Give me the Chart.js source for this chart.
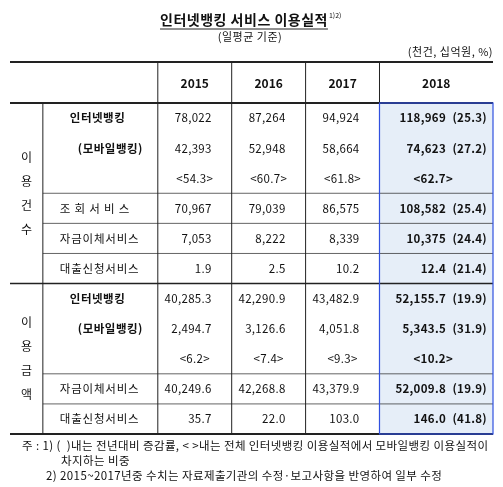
<!DOCTYPE html>
<html><head><meta charset="utf-8">
<script src="https://cdn.jsdelivr.net/npm/chart.js@4"></script>
<style>html,body{margin:0;background:#fff}#wrap{width:503px;height:487px}</style>
</head><body><div id="wrap"><canvas id="c"></canvas></div>
<script>
const years = ['2015', '2016', '2017', '2018'];
const groups = ['이용건수', '이용금액'];
const rowLabels = ['인터넷뱅킹', '(모바일뱅킹)', '', '조 회 서 비 스', '자금이체서비스', '대출신청서비스',
                   '인터넷뱅킹', '(모바일뱅킹)', '', '자금이체서비스', '대출신청서비스'];
const v2015 = ['78,022', '42,393', '<54.3>', '70,967', '7,053', '1.9', '40,285.3', '2,494.7', '<6.2>', '40,249.6', '35.7'];
const v2016 = ['87,264', '52,948', '<60.7>', '79,039', '8,222', '2.5', '42,290.9', '3,126.6', '<7.4>', '42,268.8', '22.0'];
const v2017 = ['94,924', '58,664', '<61.8>', '86,575', '8,339', '10.2', '43,482.9', '4,051.8', '<9.3>', '43,379.9', '103.0'];
const v2018 = ['118,969', '74,623', '<62.7>', '108,582', '10,375', '12.4', '52,155.7', '5,343.5', '<10.2>', '52,009.8', '146.0'];
const g2018 = ['(25.3)', '(27.2)', '', '(25.4)', '(24.4)', '(21.4)', '(19.9)', '(31.9)', '', '(19.9)', '(41.8)'];
const notes = ['주 : 1) (  )내는 전년대비 증감률, < >내는 전체 인터넷뱅킹 이용실적에서 모바일뱅킹 이용실적이',
               '차지하는 비중',
               '2) 2015~2017년중 수치는 자료제출기관의 수정·보고사항을 반영하여 일부 수정'];

// column edges as fraction of table width
const edges = [0, 0.068, 0.306, 0.459, 0.612, 0.765, 1];
const F = '"Noto Sans CJK KR", sans-serif';
const rows = rowLabels.map((_, i) => i);

const tablePlugin = {
  id: 'table',
  afterDraw(chart) {
    const ctx = chart.ctx, a = chart.chartArea, ys = chart.scales.y;
    const X = f => a.left + f * (a.right - a.left);
    const half = (ys.getPixelForValue(1) - ys.getPixelForValue(0)) / 2;
    const top = (i) => ys.getPixelForValue(i) - half;
    const headTop = 62;
    ctx.save();
    // 2018 highlight
    ctx.fillStyle = '#e6eef8';
    ctx.fillRect(X(edges[5]), a.top, X(1) - X(edges[5]), a.bottom - a.top);
    ctx.strokeStyle = '#222'; ctx.lineWidth = 1;
    const line = (x1, y1, x2, y2, w) => { ctx.lineWidth = w || 1; ctx.beginPath(); ctx.moveTo(x1, y1); ctx.lineTo(x2, y2); ctx.stroke(); };
    line(a.left, headTop, a.right, headTop, 2);
    line(a.left, a.top, a.right, a.top, 2);
    line(a.left, top(6), a.right, top(6), 1.5);
    line(a.left, a.bottom, a.right, a.bottom, 2);
    [3, 4, 5, 9, 10].forEach(i => line(X(edges[1]), top(i), a.right, top(i), 0.7));
    line(X(edges[1]), a.top, X(edges[1]), a.bottom, 1);
    for (let k = 2; k <= 5; k++) line(X(edges[k]), headTop, X(edges[k]), a.bottom, 1);
    ctx.strokeStyle = '#3050e0'; ctx.lineWidth = 1.2;
    ctx.strokeRect(X(edges[5]), a.top, X(1) - X(edges[5]), a.bottom - a.top);
    // titles
    ctx.strokeStyle = '#222';
    ctx.fillStyle = '#111'; ctx.textBaseline = 'middle';
    ctx.font = 'bold 14px ' + F; ctx.textAlign = 'center'; ctx.letterSpacing = '0.5px';
    ctx.fillText('인터넷뱅킹 서비스 이용실적', 244, 20);
    const tw = ctx.measureText('인터넷뱅킹 서비스 이용실적').width;
    line(244 - tw / 2, 29, 244 + tw / 2, 29, 1);
    ctx.font = '7px ' + F; ctx.textAlign = 'left'; ctx.letterSpacing = '0px';
    ctx.fillText('1)2)', 244 + tw / 2 + 1, 15);
    ctx.font = '11px ' + F; ctx.textAlign = 'center'; ctx.letterSpacing = '0.5px';
    ctx.fillText('(일평균 기준)', 250, 37);
    ctx.textAlign = 'right'; ctx.fillText('(천건, 십억원, %)', 493, 52);
    ctx.letterSpacing = '0px';
    // header
    ctx.font = 'bold 12px ' + F; ctx.textAlign = 'center';
    years.forEach((y, k) => ctx.fillText(y, (X(edges[k + 2]) + X(edges[k + 3])) / 2, headTop + 21));
    // groups, vertical
    ctx.font = '12px ' + F;
    groups.forEach((g, gi) => {
      const c = (top(gi * 6) + (gi ? a.bottom : top(6))) / 2;
      [...g].forEach((ch, j) => ctx.fillText(ch, X(edges[0] + 0.034), c - 36 + j * 24));
    });
    // rows
    rows.forEach(i => {
      const y = ys.getPixelForValue(i);
      const lbl = rowLabels[i];
      const bold = lbl === '인터넷뱅킹' || lbl === '(모바일뱅킹)';
      ctx.font = (bold ? 'bold ' : '') + '11.5px ' + F; ctx.textAlign = 'left';
      ctx.letterSpacing = bold ? '0.5px' : '0.8px';
      ctx.fillText(lbl, X(edges[1]) + (lbl === '(모바일뱅킹)' ? 35 : bold ? 27 : 17), y);
      ctx.letterSpacing = '0.3px';
      const ang = v2015[i].startsWith('<');
      ctx.font = '11.5px ' + F;
      [v2015, v2016, v2017].forEach((arr, k) => {
        if (ang) { ctx.textAlign = 'center'; ctx.fillText(arr[i], (X(edges[k + 2]) + X(edges[k + 3])) / 2, y); }
        else { ctx.textAlign = 'right'; ctx.fillText(arr[i], X(edges[k + 3]) - 20, y); }
      });
      ctx.font = 'bold 11.5px ' + F;
      if (ang) { ctx.textAlign = 'center'; ctx.fillText(v2018[i], (X(edges[5]) + X(1)) / 2 - 3, y); }
      else {
        ctx.textAlign = 'right'; ctx.fillText(v2018[i], X(1) - 47, y);
        ctx.fillText(g2018[i], X(1) - 6, y);
      }
    });
    // notes
    ctx.font = '11.5px ' + F; ctx.textAlign = 'left'; ctx.letterSpacing = '0.4px';
    ctx.fillText(notes[0], 22, 446);
    ctx.fillText(notes[1], 61, 461);
    ctx.fillText(notes[2], 46, 476);
    ctx.restore();
  }
};

new Chart(document.getElementById('c'), {
  type: 'bar',
  data: { labels: rows, datasets: [{ data: [] }] },
  options: {
    responsive: true, maintainAspectRatio: false, animation: false,
    layout: { padding: { left: 10, right: 10, top: 103, bottom: 53 } },
    plugins: { legend: { display: false }, tooltip: { enabled: false } },
    scales: {
      x: { type: 'linear', min: 0, max: 1, display: false },
      y: { type: 'category', display: false, offset: true }
    }
  },
  plugins: [tablePlugin]
});
</script></body></html>
